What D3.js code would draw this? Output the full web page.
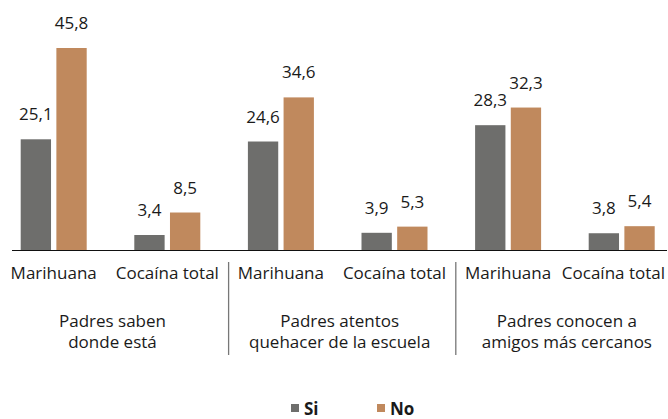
<!DOCTYPE html>
<html><head><meta charset="utf-8">
<script src="https://cdn.jsdelivr.net/npm/d3@7"></script>
<style>body{margin:0;background:#fff}svg{display:block}text{font-family:"Open Sans",sans-serif;fill:#1a1a1a}</style>
</head><body><svg id="c" width="668" height="419"></svg>
<script>
const categories = ["Marihuana","Cocaína total","Marihuana","Cocaína total","Marihuana","Cocaína total"];
const groups = [["Padres saben","donde está"],["Padres atentos","quehacer de la escuela"],["Padres conocen a","amigos más cercanos"]];
const seriesNames = ["Si","No"];
const si = [25.1,3.4,24.6,3.9,28.3,3.8];
const no = [45.8,8.5,34.6,5.3,32.3,5.4];
const colors = ["#6e6e6c","#c0895d"];

const svg = d3.select("#c");
const base = 250;
const ids = categories.map((c,i)=>i);
const x = d3.scaleBand().domain(ids).range([-3.1,678.5]).paddingInner(0).paddingOuter(0);
const inner = d3.scaleBand().domain([0,1]).range([x.bandwidth()/2-33, x.bandwidth()/2+33]).paddingInner(0.15);
const y = d3.scaleLinear().domain([0,45.8]).range([base,48]);
const fmt = v => d3.format(".1f")(v).replace(".",",");

const data = [];
ids.forEach(i=>{ [si[i],no[i]].forEach((v,s)=>data.push({i,s,v})); });

svg.selectAll("rect.bar").data(data).join("rect").attr("class","bar")
  .attr("x",d=>x(d.i)+inner(d.s)).attr("width",inner.bandwidth())
  .attr("y",d=>y(d.v)).attr("height",d=>base-y(d.v)).attr("fill",d=>colors[d.s]);

svg.selectAll("text.val").data(data).join("text").attr("class","val")
  .attr("x",d=>x(d.i)+inner(d.s)+inner.bandwidth()/2).attr("y",d=>y(d.v)-19)
  .attr("text-anchor","middle").attr("font-size",17).text(d=>fmt(d.v));

svg.append("line").attr("x1",12).attr("x2",667).attr("y1",base+0.5).attr("y2",base+0.5)
  .attr("stroke","#111").attr("stroke-width",1.2);

svg.selectAll("text.cat").data(ids).join("text").attr("class","cat")
  .attr("x",i=>x(i)+x.bandwidth()/2).attr("y",279).attr("text-anchor","middle")
  .attr("font-size",17).text(i=>categories[i])
  .each(function(){
    const b = this.getBBox();
    if (b.x + b.width > 665) d3.select(this).attr("x", +d3.select(this).attr("x") - (b.x + b.width - 665));
  });

[2,4].forEach(i=>{
  const sx = x(i)+4.5;
  svg.append("line").attr("x1",sx).attr("x2",sx).attr("y1",262).attr("y2",355).attr("stroke","#777").attr("stroke-width",1.3);
});

groups.forEach((g,k)=>{
  const cx = (x(2*k)+x(2*k+1)+x.bandwidth())/2 + 2;
  g.forEach((line,j)=>{
    svg.append("text").attr("x",cx).attr("y",327+j*21).attr("text-anchor","middle").attr("font-size",17).text(line);
  });
});

const lg = [{n:seriesNames[0],x:291},{n:seriesNames[1],x:377}];
lg.forEach((l,k)=>{
  svg.append("rect").attr("x",l.x).attr("y",404).attr("width",8).attr("height",8).attr("fill",colors[k]);
  svg.append("text").attr("x",l.x+13).attr("y",415).attr("font-size",17).attr("font-weight","bold").text(l.n);
});
</script></body></html>
